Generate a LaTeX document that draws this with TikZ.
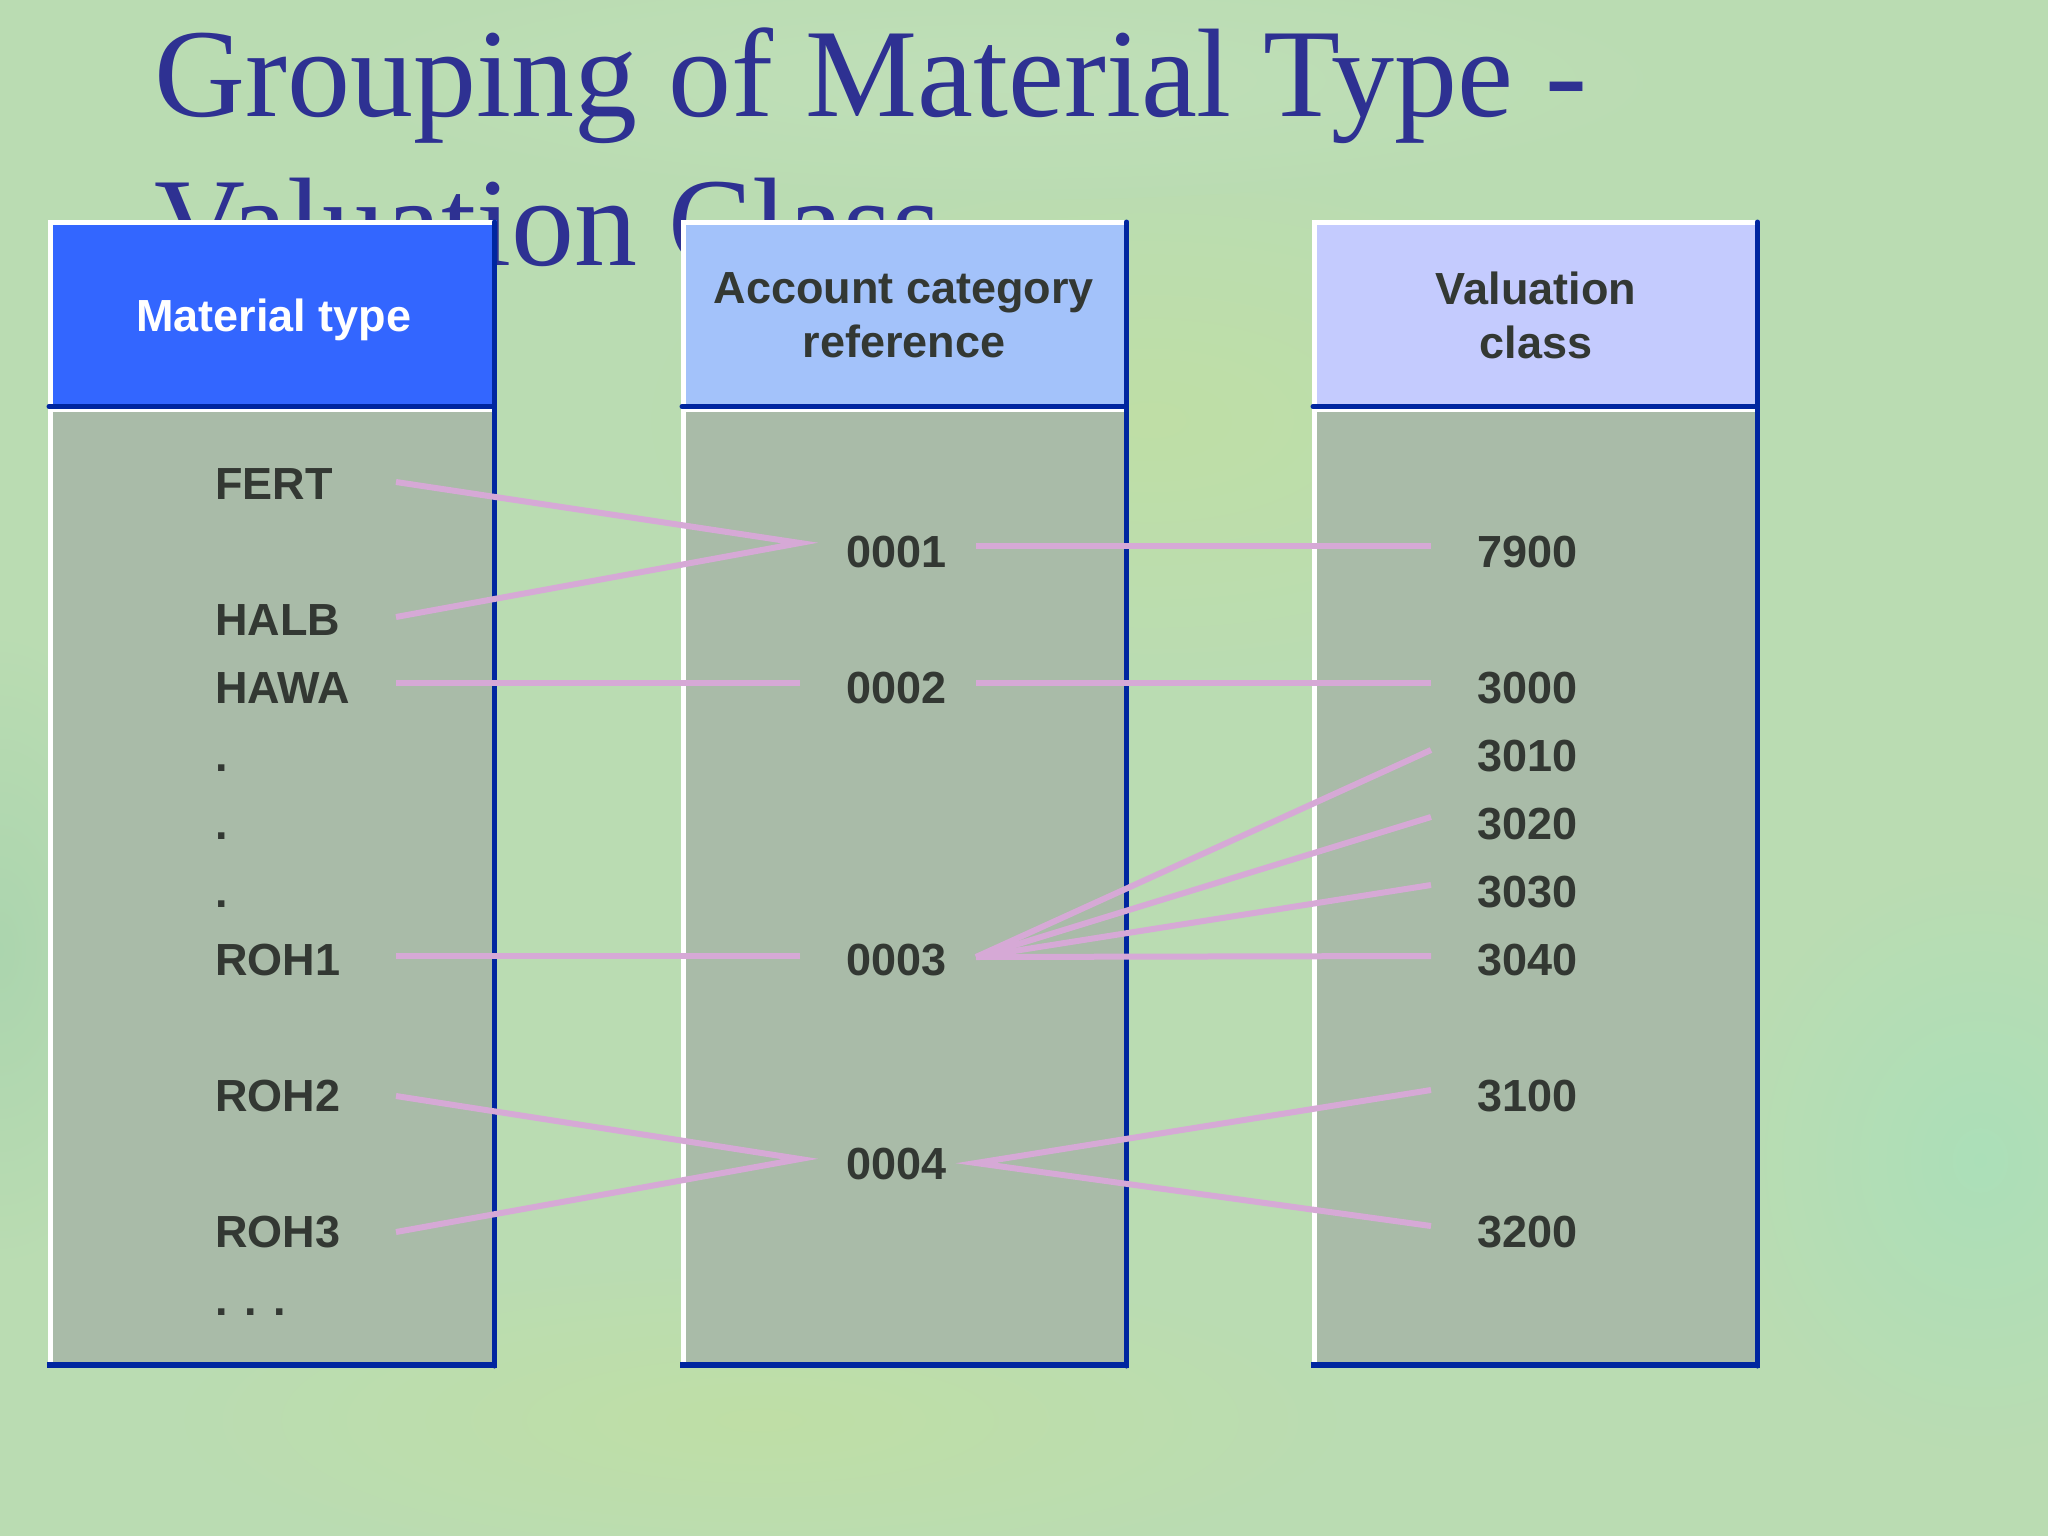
\documentclass[tikz,border=0pt]{standalone}
\usepackage{fontspec}
\setmainfont{Liberation Serif}
\setsansfont{Liberation Sans}
\definecolor{bgg}{HTML}{BADCB2}
\definecolor{titlec}{HTML}{2E3192}
\definecolor{hdA}{HTML}{3366FF}
\definecolor{hdB}{HTML}{A3C2FA}
\definecolor{hdC}{HTML}{C4CBFE}
\definecolor{bodyc}{HTML}{A9BBA8}
\definecolor{edgeb}{HTML}{0026A0}
\definecolor{linkc}{HTML}{D6A9D6}
\definecolor{txtc}{HTML}{333833}
\tikzset{
  item/.style={anchor=base west, inner sep=0pt, font=\sffamily\bfseries\fontsize{45}{54}\selectfont, text=txtc},
  hdr/.style={inner sep=0pt, align=center, font=\sffamily\bfseries\fontsize{45}{54}\selectfont},
  link/.style={draw=linkc, line width=6pt},
  titletext/.style={anchor=base west, inner sep=0pt, font=\fontsize{126}{148}\selectfont, text=titlec},
}
\newcommand\drawcolumn[3]{%
  \fill[#3] (#1,220) rectangle (#2,407);
  \fill[bodyc] (#1,407) rectangle (#2,1366);
  \draw[white, line width=4.5pt] (#1+2.5,220) -- (#1+2.5,1364);
  \draw[white, line width=4.5pt] (#1,222.5) -- (#2-3,222.5);
  \draw[white, line width=2.5pt] (#1,410.5) -- (#2-3,410.5);
  \draw[edgeb, line width=5pt, line cap=round] (#1+1,406.5) -- (#2-3,406.5);
  \draw[edgeb, line width=5pt, line cap=round] (#2-2.5,222) -- (#2-2.5,1366);
  \draw[edgeb, line width=6pt] (#1-1,1365) -- (#2,1365);
}
\begin{document}
\begin{tikzpicture}[x=1pt,y=-1pt]
\useasboundingbox (0,0) rectangle (2048,1536);
% background
\fill[bgg] (0,0) rectangle (2048,1536);
\shade[inner color=yellow!7!bgg, outer color=bgg] (1150,420) ellipse (520 and 260);
\shade[inner color=yellow!7!bgg, outer color=bgg] (760,1420) ellipse (600 and 160);
\shade[inner color=cyan!8!bgg, outer color=bgg] (1980,1160) ellipse (260 and 300);
\shade[inner color=teal!8!bgg, outer color=bgg] (0,950) ellipse (160 and 320);
\shade[inner color=white!8!bgg, outer color=bgg] (1000,80) ellipse (700 and 120);
% title
\node[titletext] (title1) at (154,117) {Grouping of Material Type -};
\node[titletext] (title2) at (154,265) {Valuation Class};
% columns
\drawcolumn{48}{497}{hdA}
\drawcolumn{681}{1129}{hdB}
\drawcolumn{1312}{1760}{hdC}
% headers
\node[hdr, anchor=base, text=white] (hmat) at (274,331) {Material type};
\node[hdr, anchor=center, text=txtc] (hacc) at (904,315) {Account category\\reference};
\node[hdr, anchor=center, text=txtc] (hval) at (1536,315) {Valuation\\class};
% left items
\node[item] (fert) at (215,499) {FERT};
\node[item] (halb) at (215,635) {HALB};
\node[item] (hawa) at (215,703) {HAWA};
\node[item] (d1) at (215,771) {.};
\node[item] (d2) at (215,839) {.};
\node[item] (d3) at (215,907) {.};
\node[item] (roh1) at (215,975) {ROH1};
\node[item] (roh2) at (215,1111) {ROH2};
\node[item] (roh3) at (215,1247) {ROH3};
\node[item] (dots) at (215,1315) {. . .};
% middle items
\node[item] (a1) at (846,567) {0001};
\node[item] (a2) at (846,703) {0002};
\node[item] (a3) at (846,975) {0003};
\node[item] (a4) at (846,1179) {0004};
% right items
\node[item] (v7900) at (1477,567) {7900};
\node[item] (v3000) at (1477,703) {3000};
\node[item] (v3010) at (1477,771) {3010};
\node[item] (v3020) at (1477,839) {3020};
\node[item] (v3030) at (1477,907) {3030};
\node[item] (v3040) at (1477,975) {3040};
\node[item] (v3100) at (1477,1111) {3100};
\node[item] (v3200) at (1477,1247) {3200};
% connector end points
\coordinate (fertR) at (396,482);
\coordinate (halbR) at (396,617);
\coordinate (hawaR) at (396,683);
\coordinate (roh1R) at (396,956);
\coordinate (roh2R) at (396,1096);
\coordinate (roh3R) at (396,1232);
\coordinate (a1L) at (800,543);
\coordinate (a2L) at (800,683);
\coordinate (a3L) at (800,956);
\coordinate (a4L) at (800,1159);
\coordinate (a1R) at (976,546);
\coordinate (a2R) at (976,683);
\coordinate (a3R) at (976,957);
\coordinate (a4R) at (976,1163);
\coordinate (v7900L) at (1431,546);
\coordinate (v3000L) at (1431,683);
\coordinate (v3010L) at (1431,750);
\coordinate (v3020L) at (1431,817);
\coordinate (v3030L) at (1431,885);
\coordinate (v3040L) at (1431,956);
\coordinate (v3100L) at (1431,1090);
\coordinate (v3200L) at (1431,1226);
% connectors
\draw[link] (fertR) -- (a1L) -- (halbR);
\draw[link] (hawaR) -- (a2L);
\draw[link] (roh1R) -- (a3L);
\draw[link] (roh2R) -- (a4L) -- (roh3R);
\draw[link] (a1R) -- (v7900L);
\draw[link] (a2R) -- (v3000L);
\draw[link] (a3R) -- (v3010L);
\draw[link] (a3R) -- (v3020L);
\draw[link] (a3R) -- (v3030L);
\draw[link] (a3R) -- (v3040L);
\draw[link] (v3100L) -- (a4R) -- (v3200L);
\end{tikzpicture}
\end{document}
